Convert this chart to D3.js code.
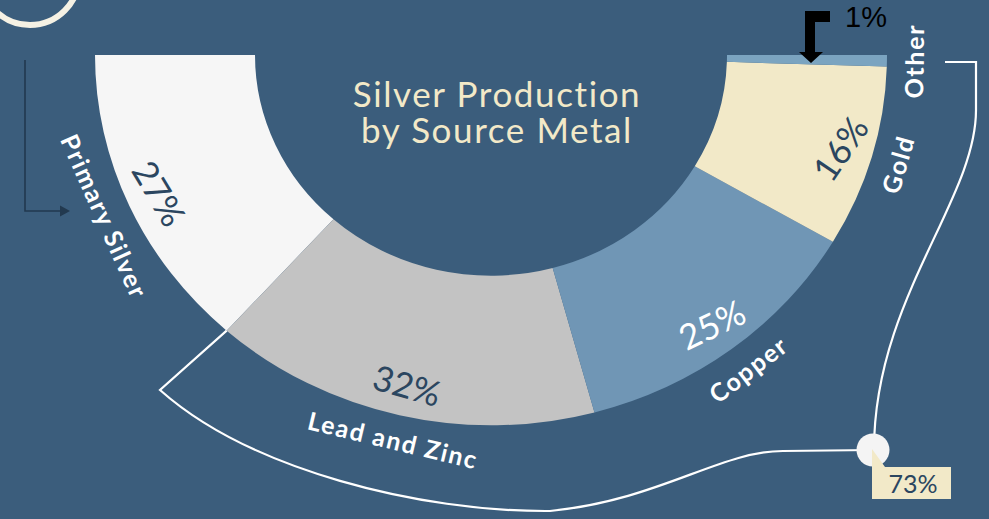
<!DOCTYPE html>
<html><head><meta charset="utf-8">
<script src="https://cdn.jsdelivr.net/npm/d3@7"></script>
<style>html,body{margin:0;padding:0;background:#3b5d7c;overflow:hidden}</style>
</head><body>
<svg id="chart" width="989" height="519"></svg>
<script>
// ---- data ----
const categories = ["Primary Silver", "Lead and Zinc", "Copper", "Gold", "Other"];
const shares = [27, 32, 25, 16, 1];
const shareLabels = ["27%", "32%", "25%", "16%", "1%"];
const byproductLabel = "73%";
const titleLines = ["Silver Production", "by Source Metal"];

// ---- style ----
const W = 989, H = 519;
const bg = "#3b5d7c";
const fills = ["#f6f6f6", "#c3c3c3", "#7096b5", "#f2e9c8", "#7ba4c0"];
const pctColors = ["#2b4660", "#2b4660", "#ffffff", "#2b4660", "#000000"];
const cream = "#f2e9c8";
const font = "Lato, 'Open Sans', sans-serif";
const cx = 491, cy = 55, rIn = 236, rOut = 396, k = 0.935;

const svg = d3.select("#chart");
svg.append("rect").attr("width", W).attr("height", H).attr("fill", bg);

// decorative ring top-left
svg.append("circle").attr("cx", 30).attr("cy", -24).attr("r", 49)
  .attr("fill", "none").attr("stroke", "#f5f1e4").attr("stroke-width", 6);

// dark arrow on left
svg.append("path").attr("d", "M25,60 V211 H62").attr("fill", "none")
  .attr("stroke", "#22394f").attr("stroke-width", 1.6);
svg.append("path").attr("d", "M60,205.5 L70,211 L60,216.5 Z").attr("fill", "#22394f");

// ---- pie ----
const pie = d3.pie().sort(null).value(d => d)
  .startAngle(3 * Math.PI / 2).endAngle(Math.PI / 2);
const arcs = pie(shares);
const arc = d3.arc().innerRadius(rIn).outerRadius(rOut);

const g = svg.append("g").attr("transform", `translate(${cx},${cy}) scale(1,${k})`);
g.selectAll("path").data(arcs).join("path")
  .attr("d", arc).attr("fill", (d, i) => fills[i]);

function pt(a, r) { return [cx + Math.sin(a) * r, cy - Math.cos(a) * r * k]; }
const deg = a => a * 180 / Math.PI;

// percentage labels inside
arcs.forEach((d, i) => {
  if (i === 4) return;
  const a = (d.startAngle + d.endAngle) / 2;
  const [x, y] = pt(a, 364);
  const rot = 0.82 * (deg(a) - 180) + 5;
  svg.append("text").attr("transform", `translate(${x},${y}) rotate(${rot})`)
    .attr("text-anchor", "middle").attr("dy", "0.35em")
    .attr("font-family", font).attr("font-size", 35).attr("font-weight", 400)
    .attr("fill", pctColors[i]).text(shareLabels[i]);
});

// category labels outside
arcs.forEach((d, i) => {
  const a = (d.startAngle + d.endAngle) / 2;
  const [x, y] = pt(a, 424);
  const rot = deg(a) - 180;
  svg.append("text").attr("transform", `translate(${x},${y}) rotate(${rot})`)
    .attr("text-anchor", "middle").attr("dy", "0.35em")
    .attr("font-family", font).attr("font-size", 25).attr("font-weight", 700)
    .attr("letter-spacing", 1.6)
    .attr("fill", "#ffffff").text(categories[i]);
});

// title
titleLines.forEach((t, i) => {
  svg.append("text").attr("x", 497).attr("y", 107 + i * 36)
    .attr("text-anchor", "middle").attr("font-family", font)
    .attr("font-size", 35).attr("font-weight", 400).attr("letter-spacing", 1.6)
    .attr("fill", cream).text(t);
});

// ---- "Other" 1% callout ----
const tipX = cx + 320;
const ty = 63;
svg.append("path").attr("fill", "#000")
  .attr("d", `M${tipX - 6},${ty - 52} H${tipX + 19} V${ty - 41} H${tipX + 4} V${ty - 11} H${tipX + 12} L${tipX},${ty} L${tipX - 12},${ty - 11} H${tipX - 6} Z`);
svg.append("text").attr("x", tipX + 34).attr("y", 27)
  .attr("font-family", "'Liberation Sans', Arial, sans-serif").attr("font-size", 29)
  .attr("fill", "#000").text(shareLabels[4]);

// ---- by-product bracket (73%) ----
const b0 = pt(arcs[0].endAngle, rOut); // outer boundary Primary / Lead
const bracket = d3.path();
bracket.moveTo(b0[0], b0[1]);
bracket.lineTo(160, 390);
bracket.bezierCurveTo(250, 470, 420, 512, 550, 511);
bracket.bezierCurveTo(660, 500, 720, 451, 783, 451);
bracket.lineTo(873, 450);
const bracket2 = d3.path();
bracket2.moveTo(945, 62);
bracket2.lineTo(976, 62);
bracket2.lineTo(976, 110);
bracket2.bezierCurveTo(976, 200, 874, 300, 874, 450);
[bracket, bracket2].forEach(p => svg.append("path").attr("d", p.toString())
  .attr("fill", "none").attr("stroke", "#ffffff").attr("stroke-width", 2.2));

svg.append("circle").attr("cx", 873).attr("cy", 450).attr("r", 16.5).attr("fill", "#f4f4f4");
svg.append("path").attr("d", "M872,449 L885,467 H951 V499 H872 Z").attr("fill", cream);
svg.append("text").attr("x", 913).attr("y", 493).attr("text-anchor", "middle")
  .attr("font-family", font).attr("font-size", 25).attr("fill", "#2b4660").text(byproductLabel);
</script>
</body></html>
